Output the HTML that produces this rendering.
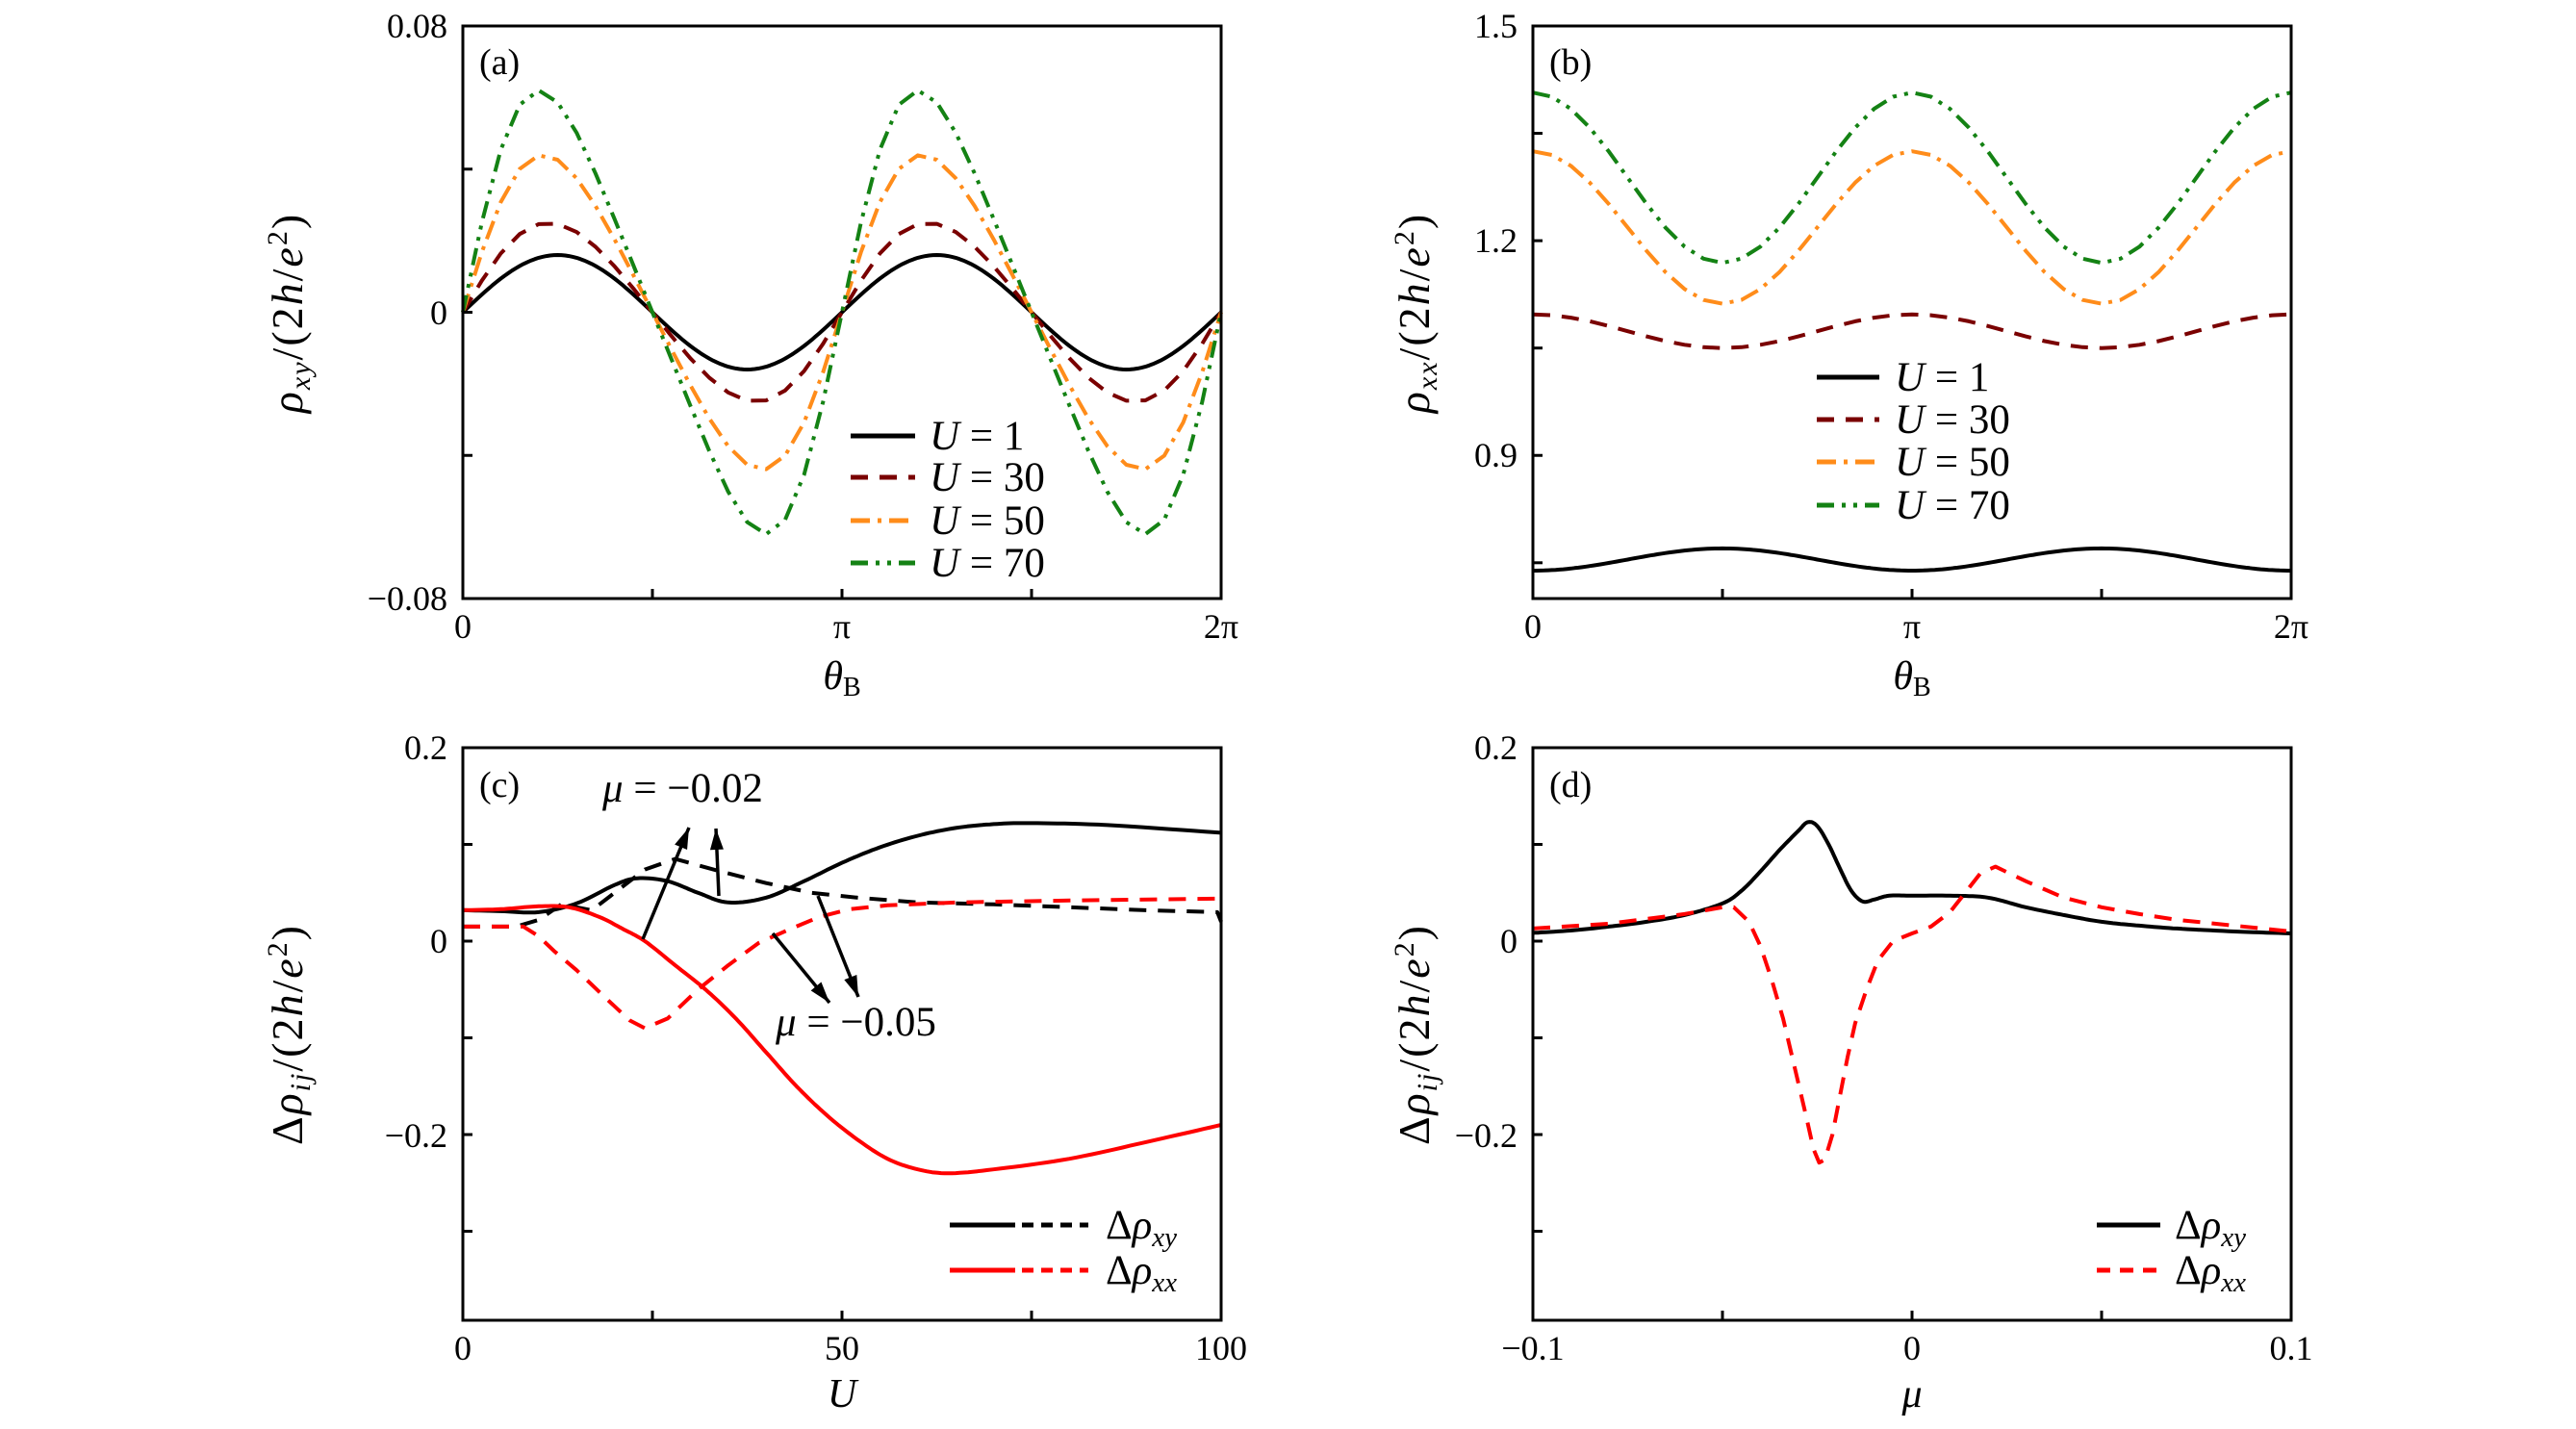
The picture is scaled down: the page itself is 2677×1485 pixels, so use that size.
<!DOCTYPE html>
<html><head><meta charset="utf-8"><style>
html,body{margin:0;padding:0;background:#fff;}
svg, svg text, svg tspan{font-family:"Liberation Serif","DejaVu Serif",serif;}
text{fill:#000;}
.t{font-size:36px;}
.i{font-style:italic;}
</style></head><body>
<svg id="s" width="2677" height="1480" viewBox="0 0 2677 1480" xmlns="http://www.w3.org/2000/svg" font-family="Liberation Serif, DejaVu Serif, serif">
<rect width="2677" height="1480" fill="#fff"/>
<g id="curves"></g>
<g id="frames" fill="none" stroke="#000" stroke-width="3"></g>
<g class="t" font-family="Liberation Serif, serif">
<text x="465" y="39" text-anchor="end">0.08</text>
<text x="465" y="337" text-anchor="end">0</text>
<text x="465" y="634" text-anchor="end">−0.08</text>
<text x="481" y="663" text-anchor="middle">0</text>
<text x="875" y="663" text-anchor="middle">π</text>
<text x="1269" y="663" text-anchor="middle">2π</text>

<text x="1577" y="39" text-anchor="end">1.5</text>
<text x="1577" y="262" text-anchor="end">1.2</text>
<text x="1577" y="485" text-anchor="end">0.9</text>
<text x="1593" y="663" text-anchor="middle">0</text>
<text x="1987" y="663" text-anchor="middle">π</text>
<text x="2381" y="663" text-anchor="middle">2π</text>

<text x="465" y="789" text-anchor="end">0.2</text>
<text x="465" y="990" text-anchor="end">0</text>
<text x="465" y="1192" text-anchor="end">−0.2</text>
<text x="481" y="1413" text-anchor="middle">0</text>
<text x="875" y="1413" text-anchor="middle">50</text>
<text x="1269" y="1413" text-anchor="middle">100</text>

<text x="1577" y="789" text-anchor="end">0.2</text>
<text x="1577" y="990" text-anchor="end">0</text>
<text x="1577" y="1192" text-anchor="end">−0.2</text>
<text x="1593" y="1413" text-anchor="middle">−0.1</text>
<text x="1987" y="1413" text-anchor="middle">0</text>
<text x="2381" y="1413" text-anchor="middle">0.1</text>
</g>
<g style="font-size:42px" font-family="Liberation Serif, serif">
<text x="875" y="716" text-anchor="middle"><tspan class="i">θ</tspan><tspan font-size="28" dy="7">B</tspan></text>
<text x="1987" y="716" text-anchor="middle"><tspan class="i">θ</tspan><tspan font-size="28" dy="7">B</tspan></text>
<text x="875" y="1462" text-anchor="middle" class="i">U</text>
<text x="1987" y="1462" text-anchor="middle" class="i">μ</text>
<g style="font-size:46px;letter-spacing:2px">
<text transform="translate(314,325) rotate(-90)" text-anchor="middle"><tspan class="i">ρ</tspan><tspan class="i" font-size="30" dy="8">xy</tspan><tspan dy="-8">/(2</tspan><tspan class="i">h</tspan><tspan>/</tspan><tspan class="i">e</tspan><tspan font-size="30" dy="-16">2</tspan><tspan dy="16">)</tspan></text>
<text transform="translate(1485,325) rotate(-90)" text-anchor="middle"><tspan class="i">ρ</tspan><tspan class="i" font-size="30" dy="8">xx</tspan><tspan dy="-8">/(2</tspan><tspan class="i">h</tspan><tspan>/</tspan><tspan class="i">e</tspan><tspan font-size="30" dy="-16">2</tspan><tspan dy="16">)</tspan></text>
<text transform="translate(314,1075) rotate(-90)" text-anchor="middle"><tspan>Δ</tspan><tspan class="i">ρ</tspan><tspan class="i" font-size="30" dy="8">ij</tspan><tspan dy="-8">/(2</tspan><tspan class="i">h</tspan><tspan>/</tspan><tspan class="i">e</tspan><tspan font-size="30" dy="-16">2</tspan><tspan dy="16">)</tspan></text>
<text transform="translate(1485,1075) rotate(-90)" text-anchor="middle"><tspan>Δ</tspan><tspan class="i">ρ</tspan><tspan class="i" font-size="30" dy="8">ij</tspan><tspan dy="-8">/(2</tspan><tspan class="i">h</tspan><tspan>/</tspan><tspan class="i">e</tspan><tspan font-size="30" dy="-16">2</tspan><tspan dy="16">)</tspan></text>
</g>
</g>
<g style="font-size:38px" font-family="Liberation Serif, serif">
<text x="498" y="77">(a)</text>
<text x="1610" y="77">(b)</text>
<text x="498" y="828">(c)</text>
<text x="1610" y="828">(d)</text>
</g>
<g style="font-size:43px" font-family="Liberation Serif, serif">
<text x="966" y="467"><tspan class="i">U</tspan> = 1</text>
<text x="966" y="510"><tspan class="i">U</tspan> = 30</text>
<text x="966" y="555"><tspan class="i">U</tspan> = 50</text>
<text x="966" y="599"><tspan class="i">U</tspan> = 70</text>
<text x="1969" y="406"><tspan class="i">U</tspan> = 1</text>
<text x="1969" y="450"><tspan class="i">U</tspan> = 30</text>
<text x="1969" y="494"><tspan class="i">U</tspan> = 50</text>
<text x="1969" y="539"><tspan class="i">U</tspan> = 70</text>
<text x="1149" y="1287">Δ<tspan class="i">ρ</tspan><tspan class="i" font-size="29" dy="8">xy</tspan></text>
<text x="1149" y="1334">Δ<tspan class="i">ρ</tspan><tspan class="i" font-size="29" dy="8">xx</tspan></text>
<text x="2260" y="1287">Δ<tspan class="i">ρ</tspan><tspan class="i" font-size="29" dy="8">xy</tspan></text>
<text x="2260" y="1334">Δ<tspan class="i">ρ</tspan><tspan class="i" font-size="29" dy="8">xx</tspan></text>
<text x="626" y="833"><tspan class="i">μ</tspan> = −0.02</text>
<text x="806" y="1076"><tspan class="i">μ</tspan> = −0.05</text>
</g>
<g id="arrows"></g>
</svg>
<script>
var NS="http://www.w3.org/2000/svg";
function el(parent,tag,attrs){var e=document.createElementNS(NS,tag);for(var k in attrs)e.setAttribute(k,attrs[k]);document.getElementById(parent).appendChild(e);return e;}
var P={
 a:{x0:481,x1:1269,y0:27,y1:622,xmin:0,xmax:2*Math.PI,ymin:-0.08,ymax:0.08},
 b:{x0:1593,x1:2381,y0:27,y1:622,xmin:0,xmax:2*Math.PI,ymin:0.7,ymax:1.5},
 c:{x0:481,x1:1269,y0:777,y1:1372,xmin:0,xmax:100,ymin:-0.392,ymax:0.2},
 d:{x0:1593,x1:2381,y0:777,y1:1372,xmin:-0.1,xmax:0.1,ymin:-0.392,ymax:0.2}
};
function X(p,v){return p.x0+(v-p.xmin)/(p.xmax-p.xmin)*(p.x1-p.x0);}
function Y(p,v){return p.y1-(v-p.ymin)/(p.ymax-p.ymin)*(p.y1-p.y0);}
var STY={
 k:{stroke:"#000"},
 m:{stroke:"#7a0000","stroke-dasharray":"18 12"},
 o:{stroke:"#ff8c1a","stroke-dasharray":"20 8 4 8"},
 g:{stroke:"#148214","stroke-dasharray":"18 8 4 8 4 8"},
 r:{stroke:"#ff0000"},
 rd:{stroke:"#ff0000","stroke-dasharray":"18 12"},
 kd:{stroke:"#000","stroke-dasharray":"18 12"}
};
function line(pts,st,g,w){var d="";pts.forEach(function(q,i){d+=(i?"L":"M")+q[0].toFixed(1)+" "+q[1].toFixed(1);});
 var a={d:d,fill:"none","stroke-width":w||4,"stroke-linejoin":"round"};for(var k in st)a[k]=st[k];el(g||"curves","path",a);}
function fn(p,f,st,n){var pts=[];n=n||200;for(var i=0;i<=n;i++){var x=p.xmin+(p.xmax-p.xmin)*i/n;pts.push([X(p,x),Y(p,f(x))]);}line(pts,st);}
function interp(p,data,st){
 var pts=data.map(function(d){return [X(p,d[0]),Y(p,d[1])];});
 var out=[];for(var i=0;i<pts.length-1;i++){var p0=pts[Math.max(0,i-1)],p1=pts[i],p2=pts[i+1],p3=pts[Math.min(pts.length-1,i+2)];
  for(var t=0;t<1;t+=0.1){var t2=t*t,t3=t2*t;
   out.push([0.5*((2*p1[0])+(-p0[0]+p2[0])*t+(2*p0[0]-5*p1[0]+4*p2[0]-p3[0])*t2+(-p0[0]+3*p1[0]-3*p2[0]+p3[0])*t3),
             0.5*((2*p1[1])+(-p0[1]+p2[1])*t+(2*p0[1]-5*p1[1]+4*p2[1]-p3[1])*t2+(-p0[1]+3*p1[1]-3*p2[1]+p3[1])*t3)]);}}
 out.push(pts[pts.length-1]);line(out,st);}
[[0.016,0,"k"],[0.025,0.15,"m"],[0.044,0.25,"o"],[0.062,0.33,"g"]].forEach(function(c){
 fn(P.a,function(t){var x=2*t;return c[0]*Math.sin(x+c[1]*Math.sin(x));},STY[c[2]],c[2]=="k"?200:40);});
[[0.7545,-0.0155,"k"],[1.0735,0.0235,"m"],[1.2185,0.1065,"o"],[1.288,0.119,"g"]].forEach(function(c){
 fn(P.b,function(t){return c[0]+c[1]*Math.cos(2*t);},STY[c[2]],c[2]=="k"?200:40);});
interp(P.c,[[0,0.032],[5,0.031],[10,0.030],[15,0.039],[20,0.058],[23,0.065],[27,0.062],[31,0.05],[35,0.040],[40,0.045],[45,0.062],[50,0.081],[55,0.097],[60,0.109],[65,0.117],[70,0.121],[75,0.122],[85,0.12],[100,0.112]],STY.k);
line([[0,0.015],[7,0.015],[10,0.022],[13,0.038],[17,0.032],[20,0.05],[24,0.074],[28,0.085],[34,0.072],[40,0.06],[46,0.05],[52,0.045],[60,0.04],[70,0.038],[80,0.035],[90,0.032],[99.5,0.03],[100,0.02]].map(function(d){return [X(P.c,d[0]),Y(P.c,d[1])];}),STY.kd);
interp(P.c,[[0,0.032],[5,0.033],[10,0.036],[14,0.035],[18,0.025],[21,0.013],[24,0.0],[28,-0.025],[32,-0.05],[36,-0.08],[40,-0.115],[44,-0.15],[48,-0.18],[52,-0.205],[56,-0.225],[60,-0.236],[64,-0.24],[70,-0.236],[80,-0.225],[90,-0.208],[100,-0.19]],STY.r);
line([[0,0.015],[8,0.015],[10,0.005],[12,-0.01],[15,-0.03],[19,-0.06],[22,-0.082],[24,-0.09],[27,-0.08],[31,-0.05],[35,-0.025],[39,-0.002],[43,0.012],[47,0.025],[51,0.033],[56,0.037],[65,0.04],[80,0.042],[100,0.044]].map(function(d){return [X(P.c,d[0]),Y(P.c,d[1])];}),STY.rd);
interp(P.d,[[-0.1,0.0085],[-0.09,0.011],[-0.08,0.015],[-0.07,0.02],[-0.06,0.027],[-0.05,0.039],[-0.045,0.052],[-0.04,0.072],[-0.035,0.094],[-0.03,0.114],[-0.0275,0.123],[-0.025,0.119],[-0.022,0.1],[-0.019,0.075],[-0.016,0.052],[-0.013,0.041],[-0.01,0.043],[-0.006,0.047],[0,0.047],[0.01,0.047],[0.02,0.045],[0.03,0.035],[0.04,0.027],[0.05,0.02],[0.06,0.016],[0.07,0.013],[0.085,0.01],[0.1,0.008]],STY.k);
line([[-0.1,0.013],[-0.08,0.018],[-0.06,0.028],[-0.05,0.035],[-0.047,0.035],[-0.043,0.02],[-0.04,-0.005],[-0.037,-0.04],[-0.034,-0.08],[-0.031,-0.13],[-0.028,-0.18],[-0.026,-0.215],[-0.0245,-0.229],[-0.023,-0.226],[-0.021,-0.2],[-0.019,-0.16],[-0.017,-0.12],[-0.015,-0.085],[-0.012,-0.05],[-0.009,-0.02],[-0.005,0.0],[0,0.008],[0.005,0.015],[0.01,0.03],[0.014,0.05],[0.018,0.07],[0.022,0.077],[0.03,0.062],[0.04,0.045],[0.05,0.035],[0.06,0.028],[0.07,0.022],[0.085,0.016],[0.1,0.01]].map(function(d){return [X(P.d,d[0]),Y(P.d,d[1])];}),STY.rd);
function frame(p,xt,yt){el("frames","rect",{x:p.x0,y:p.y0,width:p.x1-p.x0,height:p.y1-p.y0});
 xt.forEach(function(v){var x=X(p,v);el("frames","line",{x1:x,y1:p.y1,x2:x,y2:p.y1-10});});
 yt.forEach(function(v){var y=Y(p,v);el("frames","line",{x1:p.x0,y1:y,x2:p.x0+10,y2:y});});}
var pi=Math.PI;
frame(P.a,[pi/2,pi,1.5*pi],[-0.04,0,0.04]);
frame(P.b,[pi/2,pi,1.5*pi],[0.75,0.9,1.05,1.2,1.35]);
frame(P.c,[25,50,75],[-0.3,-0.2,-0.1,0,0.1]);
frame(P.d,[-0.05,0,0.05],[-0.3,-0.2,-0.1,0,0.1]);
function leg(x1,x2,y,st){line([[x1,y],[x2,y]],st,"curves",5);}
leg(884,951,453,STY.k);leg(884,951,496,STY.m);leg(884,951,541,STY.o);leg(884,951,585,STY.g);
leg(1888,1953,392,STY.k);leg(1888,1953,436,STY.m);leg(1888,1953,480,STY.o);leg(1888,1953,525,STY.g);
leg(987,1055,1273,STY.k);leg(1062,1131,1273,{stroke:"#000","stroke-dasharray":"12 8"});
leg(987,1055,1320,STY.r);leg(1062,1131,1320,{stroke:"#ff0000","stroke-dasharray":"12 8"});
leg(2179,2245,1273,STY.k);leg(2179,2245,1320,{stroke:"#ff0000","stroke-dasharray":"14 10"});
function arrow(x1,y1,x2,y2){el("arrows","line",{x1:x1,y1:y1,x2:x2,y2:y2,stroke:"#000","stroke-width":3.5});
 var a=Math.atan2(y2-y1,x2-x1),L=22,W=7;
 var bx=x2-L*Math.cos(a),by=y2-L*Math.sin(a);
 el("arrows","polygon",{points:x2+","+y2+" "+(bx+W*Math.sin(a))+","+(by-W*Math.cos(a))+" "+(bx-W*Math.sin(a))+","+(by+W*Math.cos(a)),fill:"#000"});}
arrow(668,976,716,860);arrow(747,931,744,861);arrow(803,970,862,1042);arrow(850,931,892,1036);
</script>
</body></html>
